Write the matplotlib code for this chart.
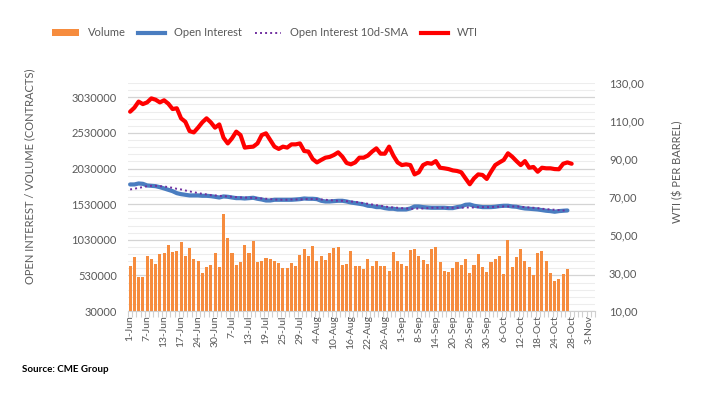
import matplotlib
matplotlib.use('Agg')
import matplotlib.pyplot as plt
import numpy as np
from matplotlib.ticker import FixedLocator, FuncFormatter
from matplotlib.lines import Line2D
from matplotlib.patches import Patch

plt.rcParams['font.family'] = ['Lato', 'DejaVu Sans']

# ---------------- data ----------------
tick_labels = ['1-Jun', '7-Jun', '13-Jun', '17-Jun', '24-Jun', '30-Jun', '7-Jul', '13-Jul',
               '19-Jul', '25-Jul', '29-Jul', '4-Aug', '10-Aug', '16-Aug', '22-Aug', '26-Aug',
               '1-Sep', '8-Sep', '14-Sep', '20-Sep', '26-Sep', '30-Sep', '6-Oct', '12-Oct',
               '18-Oct', '24-Oct', '28-Oct', '3-Nov']
n_categories = 110
label_every = 4

volume = [660000, 787000, 507000, 507000, 801000, 759000, 689000, 829000, 843000, 955000,
          857000, 871000, 997000, 801000, 913000, 759000, 731000, 563000, 647000, 675000,
          843000, 647000, 1390000, 1053000, 843000, 675000, 717000, 955000, 843000, 1011000,
          717000, 731000, 773000, 759000, 731000, 703000, 633000, 633000, 703000, 661000,
          815000, 899000, 801000, 941000, 731000, 801000, 745000, 843000, 913000, 927000,
          675000, 689000, 871000, 661000, 661000, 619000, 759000, 661000, 731000, 661000,
          661000, 591000, 857000, 731000, 689000, 661000, 885000, 899000, 801000, 745000,
          689000, 899000, 927000, 717000, 591000, 577000, 633000, 717000, 675000, 759000,
          563000, 675000, 829000, 647000, 577000, 717000, 759000, 801000, 549000, 1025000,
          647000, 787000, 899000, 731000, 647000, 535000, 843000, 871000, 731000, 563000,
          451000, 479000, 549000, 619000]

open_interest = [1806000, 1806000, 1820000, 1815000, 1792000, 1787000, 1782000, 1768000, 1750000, 1731000,
                 1712000, 1684000, 1670000, 1661000, 1652000, 1652000, 1652000, 1647000, 1647000, 1642000,
                 1633000, 1623000, 1638000, 1633000, 1623000, 1614000, 1614000, 1609000, 1614000, 1619000,
                 1605000, 1595000, 1581000, 1581000, 1591000, 1591000, 1591000, 1591000, 1591000, 1595000,
                 1600000, 1609000, 1605000, 1605000, 1600000, 1577000, 1567000, 1567000, 1572000, 1577000,
                 1577000, 1567000, 1553000, 1544000, 1535000, 1525000, 1507000, 1502000, 1488000, 1488000,
                 1474000, 1465000, 1465000, 1455000, 1455000, 1455000, 1469000, 1497000, 1497000, 1488000,
                 1483000, 1479000, 1479000, 1479000, 1479000, 1474000, 1474000, 1488000, 1497000, 1521000,
                 1525000, 1507000, 1497000, 1488000, 1488000, 1488000, 1493000, 1502000, 1507000, 1507000,
                 1497000, 1493000, 1479000, 1469000, 1465000, 1460000, 1455000, 1446000, 1437000, 1432000,
                 1423000, 1432000, 1437000, 1441000]

oi_sma10 = [1736000, 1745000, 1759000, 1768000, 1782000, 1787000, 1787000, 1782000, 1778000, 1768000,
            1759000, 1745000, 1736000, 1722000, 1708000, 1698000, 1684000, 1675000, 1666000, 1656000,
            1652000, 1647000, 1642000, 1638000, 1633000, 1628000, 1623000, 1623000, 1619000, 1619000,
            1614000, 1609000, 1605000, 1600000, 1595000, 1591000, 1591000, 1591000, 1595000, 1595000,
            1595000, 1600000, 1600000, 1600000, 1600000, 1595000, 1591000, 1586000, 1581000, 1577000,
            1577000, 1572000, 1567000, 1563000, 1553000, 1544000, 1535000, 1525000, 1516000, 1507000,
            1497000, 1488000, 1483000, 1479000, 1474000, 1469000, 1465000, 1465000, 1469000, 1469000,
            1474000, 1479000, 1479000, 1479000, 1479000, 1479000, 1479000, 1479000, 1479000, 1483000,
            1483000, 1483000, 1488000, 1488000, 1488000, 1488000, 1493000, 1493000, 1497000, 1497000,
            1497000, 1497000, 1493000, 1488000, 1483000, 1479000, 1474000, 1465000, 1460000, 1455000,
            1451000, 1446000, 1441000, 1437000]

wti = [114.9, 117.0, 120.2, 118.9, 119.8, 121.9, 121.2, 119.8, 120.9, 119.1,
       116.3, 116.7, 111.4, 109.6, 104.7, 104.0, 106.5, 109.3, 111.4, 109.3,
       106.5, 108.2, 101.2, 98.2, 100.9, 104.4, 102.6, 96.0, 96.3, 96.5,
       98.2, 102.6, 103.5, 100.0, 96.5, 95.3, 96.5, 96.0, 97.7, 97.7,
       98.2, 94.2, 93.9, 90.0, 88.2, 89.5, 90.7, 91.1, 92.1, 93.5,
       91.2, 87.9, 87.2, 88.2, 90.7, 90.7, 91.8, 93.9, 95.6, 92.8,
       92.8, 96.5, 91.8, 88.2, 86.8, 87.2, 86.8, 81.9, 83.0, 86.8,
       87.9, 87.5, 88.9, 85.4, 85.1, 84.7, 84.0, 83.7, 83.0, 79.8,
       76.7, 79.8, 81.9, 81.6, 79.5, 83.3, 86.8, 88.2, 89.5, 93.0,
       91.2, 88.9, 86.8, 88.9, 85.4, 85.8, 83.3, 85.4, 85.1, 85.1,
       84.7, 84.6, 87.5, 88.2, 87.5]

wti_ticks = [10, 30, 50, 70, 90, 110, 130]
vol_ticks = [30000, 530000, 1030000, 1530000, 2030000, 2530000, 3030000]

# ---------------- styles ----------------
c_bar = '#F68C3E'
c_oi = '#4A7DC0'
c_sma = '#7030A0'
c_wti = '#FF0000'
c_text = '#595959'

fig = plt.figure(figsize=(7.13, 3.93), dpi=100)
ax1 = fig.add_axes([128 / 713, 1 - 311 / 393, (595 - 128) / 713, (311 - 83) / 393])
ax2 = ax1.twinx()

x_vol = np.arange(len(volume))
x_oi = np.arange(len(open_interest))
x_sma = np.arange(len(oi_sma10))
x_wti = np.arange(len(wti))

ax1.bar(x_vol, volume, width=0.72, color=c_bar, zorder=2)
ax1.plot(x_oi, open_interest, color=c_oi, lw=3.0, solid_joinstyle='round',
         solid_capstyle='round', zorder=3)
ax1.plot(x_sma, oi_sma10, color=c_sma, lw=1.4, ls=(0, (1, 1.6)), zorder=4)
ax2.plot(x_wti, wti, color=c_wti, lw=3.0, solid_joinstyle='round', solid_capstyle='round')

ax1.set_xlim(-0.5, n_categories - 0.5)
ax1.set_ylim(30000, 3230000)
ax2.set_ylim(10, 130)

# y ticks & grid
ax1.yaxis.set_major_locator(FixedLocator(vol_ticks))
ax1.yaxis.set_minor_locator(FixedLocator(np.arange(30000, 3230001, 100000)))
ax1.yaxis.set_major_formatter(FuncFormatter(lambda v, p: f"{int(round(v))}"))
ax1.grid(which='major', axis='y', color='#D4D4D4', lw=0.9, zorder=0)
ax1.grid(which='minor', axis='y', color='#EDEDED', lw=0.8, zorder=0)
ax1.set_axisbelow(True)
ax1.tick_params(axis='y', which='both', length=0, labelsize=8, colors=c_text, pad=8)

ax2.yaxis.set_major_locator(FixedLocator(wti_ticks))
ax2.yaxis.set_major_formatter(FuncFormatter(lambda v, p: f"{v:.2f}".replace('.', ',')))
ax2.tick_params(axis='y', length=0, labelsize=8, colors=c_text, pad=10)

# x ticks
label_pos = np.arange(len(tick_labels)) * label_every
ax1.xaxis.set_major_locator(FixedLocator(label_pos))
ax1.set_xticklabels(tick_labels, rotation=90)
ax1.xaxis.set_minor_locator(FixedLocator(np.arange(-0.5, n_categories, 1)))
ax1.tick_params(axis='x', which='major', length=0, labelsize=7.5, colors=c_text, pad=3)
ax1.tick_params(axis='x', which='minor', length=4, color='#D0D0D0', width=0.8)

for ax in (ax1, ax2):
    for s in ('top', 'left', 'right'):
        ax.spines[s].set_visible(False)
    ax.spines['bottom'].set_color('#D0D0D0')
ax2.spines['bottom'].set_visible(False)

fig.text(30 / 713, 1 - 176 / 393, 'OPEN INTEREST / VOLUME (CONTRACTS)', rotation=90,
         fontsize=8, color=c_text, ha='center', va='center')
fig.text(678 / 713, 1 - 172 / 393, 'WTI ($ PER BARREL)', rotation=90,
         fontsize=8, color=c_text, ha='center', va='center')

# legend
handles = [Patch(facecolor=c_bar, edgecolor='none'),
           Line2D([], [], color=c_oi, lw=3),
           Line2D([], [], color=c_sma, lw=1.4, ls=(0, (1, 1.6))),
           Line2D([], [], color=c_wti, lw=3)]
labels = ['Volume', 'Open Interest', 'Open Interest 10d-SMA', 'WTI']
leg = fig.legend(handles, labels, loc='center', bbox_to_anchor=(265 / 713, 1 - 33 / 393),
                 ncol=4, frameon=False, fontsize=8, handlelength=2.4, handleheight=0.65,
                 handletextpad=0.8, columnspacing=1.15, labelcolor=c_text)

fig.text(22 / 713, 1 - 370 / 393, 'Source: CME Group', fontsize=7, fontweight='bold',
         color='#000000', ha='left', va='center')

fig.savefig('out.png', dpi=100)
